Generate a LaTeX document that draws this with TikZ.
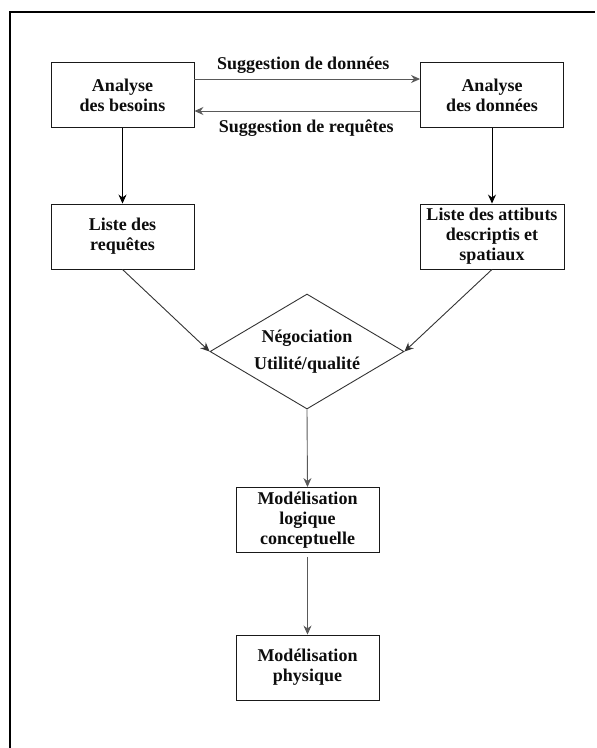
\documentclass[tikz,border=0pt]{standalone}
\usepackage{fontspec}
\setmainfont{Liberation Serif}
\usetikzlibrary{shapes.geometric,arrows.meta}
\begin{document}
\begin{tikzpicture}[x=1pt,y=-1pt,
  every node/.style={font=\bfseries\fontsize{18}{20}\selectfont, text=black!95},
  stepbox/.style={draw=black!90, line width=0.9pt, minimum width=143pt, minimum height=65pt,
    inner sep=0pt, align=center},
  choice/.style={draw=black!80, line width=0.9pt, diamond, aspect=1.687, minimum width=194pt,
    minimum height=115pt, inner sep=0pt, align=center, font=\bfseries\fontsize{18}{27}\selectfont},
  flow/.style={line width=0.9pt, -{Stealth[length=9pt,width=8pt]}},
  flowgray/.style={flow, draw=black!65},
  lbl/.style={inner sep=0pt}]
  \useasboundingbox (0,0) rectangle (597,748);
  % frame: top and left edges only
  \draw[line width=1.3pt] (10,748) -- (10,12) -- (595,12);

  \node[stepbox] (besoins) at (122.5,95) {Analyse\\des besoins};
  \node[stepbox] (donnees) at (492,95) {Analyse\\des données};
  \node[stepbox] (requetes) at (122.5,236.5) {Liste des\\requêtes};
  \node[stepbox, minimum width=144pt] (attributs) at (492,236.5) {Liste des attibuts\\descriptis et\\spatiaux};
  \node[choice] (nego) at (307,351.5) {Négociation\\Utilité/qualité};
  \node[stepbox] (logique) at (307.5,520) {Modélisation\\logique\\conceptuelle};
  \node[stepbox] (physique) at (307.5,667.5) {Modélisation\\physique};

  % exchanges between the two analyses
  \draw[flowgray] ([yshift=16pt]besoins.east) -- ([yshift=16pt]besoins.east -| donnees.west)
    node[lbl, midway, above=5pt, xshift=-4pt] {Suggestion de données};
  \draw[flowgray] ([yshift=-16pt]donnees.west) -- ([yshift=-16pt]donnees.west -| besoins.east)
    node[lbl, midway, below=8pt, xshift=-1pt] {Suggestion de requêtes};

  \draw[flow] (besoins) -- (requetes);
  \draw[flow] (donnees) -- (attributs);
  \draw[flow, draw=black!80] (requetes.south) -- (nego.west);
  \draw[flow, draw=black!80] (attributs.south) -- (nego.east);
  \draw[flowgray] (nego.south) -- (logique.north);
  \draw[flowgray] ([yshift=-4pt]logique.south) -- (physique.north);
\end{tikzpicture}
\end{document}
